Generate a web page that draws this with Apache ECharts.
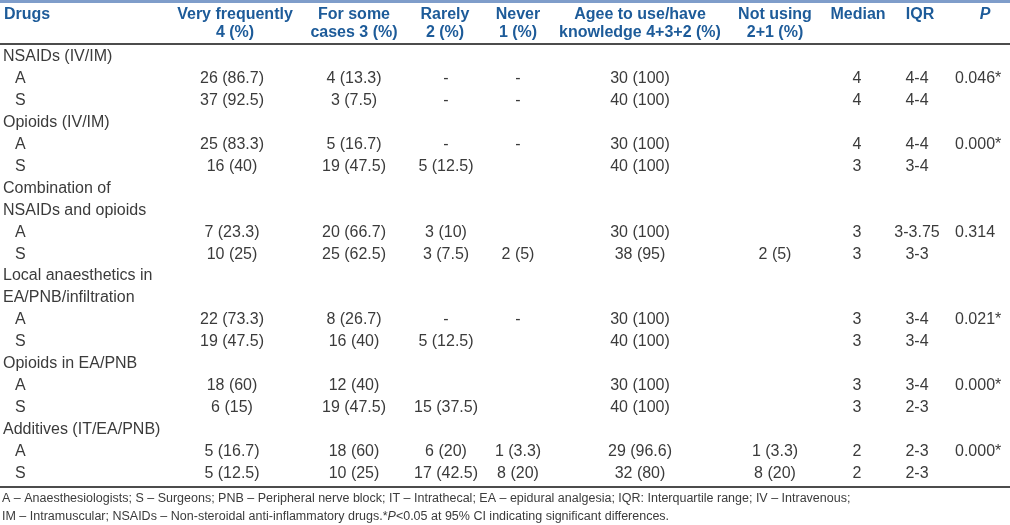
<!DOCTYPE html>
<html>
<head>
<meta charset="utf-8">
<script src="https://cdn.jsdelivr.net/npm/echarts@6/dist/echarts.min.js"></script>
<style>html,body{margin:0;padding:0;background:#fff}#c{width:1010px;height:525px}</style>
</head>
<body>
<div id="c"></div>
<script>
// ---- data ----
const headerLine1 = ['Drugs', 'Very frequently', 'For some', 'Rarely', 'Never', 'Agee to use/have', 'Not using', 'Median', 'IQR', 'P'];
const headerLine2 = ['', '4 (%)', 'cases 3 (%)', '2 (%)', '1 (%)', 'knowledge 4+3+2 (%)', '2+1 (%)', '', '', ''];
const groups = ['NSAIDs (IV/IM)', 'Opioids (IV/IM)', 'Combination of\nNSAIDs and opioids', 'Local anaesthetics in\nEA/PNB/infiltration', 'Opioids in EA/PNB', 'Additives (IT/EA/PNB)'];
const raters = ['A', 'S'];
const veryFrequently = ['26 (86.7)', '37 (92.5)', '25 (83.3)', '16 (40)', '7 (23.3)', '10 (25)', '22 (73.3)', '19 (47.5)', '18 (60)', '6 (15)', '5 (16.7)', '5 (12.5)'];
const forSomeCases = ['4 (13.3)', '3 (7.5)', '5 (16.7)', '19 (47.5)', '20 (66.7)', '25 (62.5)', '8 (26.7)', '16 (40)', '12 (40)', '19 (47.5)', '18 (60)', '10 (25)'];
const rarely = ['-', '-', '-', '5 (12.5)', '3 (10)', '3 (7.5)', '-', '5 (12.5)', '', '15 (37.5)', '6 (20)', '17 (42.5)'];
const never = ['-', '-', '-', '', '', '2 (5)', '-', '', '', '', '1 (3.3)', '8 (20)'];
const agreeToUse = ['30 (100)', '40 (100)', '30 (100)', '40 (100)', '30 (100)', '38 (95)', '30 (100)', '40 (100)', '30 (100)', '40 (100)', '29 (96.6)', '32 (80)'];
const notUsing = ['', '', '', '', '', '2 (5)', '', '', '', '', '1 (3.3)', '8 (20)'];
const median = ['4', '4', '4', '3', '3', '3', '3', '3', '3', '3', '2', '2'];
const iqr = ['4-4', '4-4', '4-4', '3-4', '3-3.75', '3-3', '3-4', '3-4', '3-4', '2-3', '2-3', '2-3'];
const pValue = ['0.046*', '', '0.000*', '', '0.314', '', '0.021*', '', '0.000*', '', '0.000*', ''];
const footnotes = [
  'A – Anaesthesiologists; S – Surgeons; PNB – Peripheral nerve block; IT – Intrathecal; EA – epidural analgesia; IQR: Interquartile range; IV – Intravenous;',
  'IM – Intramuscular; NSAIDs – Non-steroidal anti-inflammatory drugs.*{i|P}<0.05 at 95% CI indicating significant differences.'
];

// ---- layout (not data) ----
const FONT = '"Liberation Sans", Arial, sans-serif';
const TXT = '#3b3b3b';
const BLUE = '#1d5b99';
const FS = 16;
const FOOT_FS = 12.5;
const LINE = 21.9;           // px per row unit
const Y0 = 57;               // pixel of first body row
const H = 525;
const yMin = -Y0 / LINE;
const yMax = yMin + H / LINE;
const pxToRow = px => (px - Y0) / LINE;

const headerX = [4, 235, 354, 445, 518, 640, 775, 858, 920, 985];
const headerAlign = ['left', 'center', 'center', 'center', 'center', 'center', 'center', 'center', 'center', 'center'];
const dataCols = [veryFrequently, forSomeCases, rarely, never, agreeToUse, notUsing, median, iqr, pValue];
const dataX = [232, 354, 446, 518, 640, 775, 857, 917, 955];
const dataAlign = ['center', 'center', 'center', 'center', 'center', 'center', 'center', 'center', 'left'];

// ---- build cells ----
const cells = [];
headerLine1.forEach((t, i) => {
  cells.push({ x: headerX[i], row: pxToRow(15), text: t, align: headerAlign[i], kind: i === 9 ? 'headItalic' : 'head' });
  if (headerLine2[i]) cells.push({ x: headerX[i], row: pxToRow(33), text: headerLine2[i], align: headerAlign[i], kind: 'head' });
});
let r = 0;
groups.forEach((g, gi) => {
  g.split('\n').forEach(line => { cells.push({ x: 3, row: r, text: line, align: 'left', kind: 'body' }); r++; });
  raters.forEach((rt, ri) => {
    const k = gi * 2 + ri;
    cells.push({ x: 15, row: r, text: rt, align: 'left', kind: 'body' });
    dataCols.forEach((col, ci) => {
      if (col[k]) cells.push({ x: dataX[ci], row: r, text: col[k], align: dataAlign[ci], kind: 'body' });
    });
    r++;
  });
});
footnotes.forEach((t, i) => {
  cells.push({ x: 2, row: pxToRow(499 + i * 17.5), text: t, align: 'left', kind: 'foot' });
});

const rules = [
  { y: pxToRow(1.5), w: 3, c: '#7f9dca' },
  { y: pxToRow(44), w: 1.5, c: '#111' },
  { y: pxToRow(487), w: 1.5, c: '#111' }
];

const chart = echarts.init(document.getElementById('c'), null, { renderer: 'canvas' });
chart.setOption({
  animation: false,
  backgroundColor: '#fff',
  grid: { left: 0, right: 0, top: 0, bottom: 0 },
  xAxis: { type: 'value', min: 0, max: 1010, show: false },
  yAxis: { type: 'value', min: yMin, max: yMax, inverse: true, show: false },
  series: [
    {
      type: 'custom',
      coordinateSystem: 'cartesian2d',
      data: rules.map(d => [0, d.y]),
      renderItem: (params, api) => {
        const d = rules[params.dataIndex];
        const a = api.coord([0, d.y]);
        const b = api.coord([1010, d.y]);
        return { type: 'line', shape: { x1: a[0], y1: a[1], x2: b[0], y2: b[1] }, style: { stroke: d.c, lineWidth: d.w } };
      }
    },
    {
      type: 'custom',
      coordinateSystem: 'cartesian2d',
      data: cells.map(c => [c.x, c.row]),
      renderItem: (params, api) => {
        const c = cells[params.dataIndex];
        const p = api.coord([c.x, c.row]);
        let font, fill;
        if (c.kind === 'head') { font = 'bold ' + FS + 'px ' + FONT; fill = BLUE; }
        else if (c.kind === 'headItalic') { font = 'italic bold ' + FS + 'px ' + FONT; fill = BLUE; }
        else if (c.kind === 'foot') { font = FOOT_FS + 'px ' + FONT; fill = TXT; }
        else { font = FS + 'px ' + FONT; fill = TXT; }
        return {
          type: 'text', x: p[0], y: p[1],
          style: {
            text: c.text, font: font, fill: fill, align: c.align, verticalAlign: 'middle',
            rich: { i: { fontStyle: 'italic', fontSize: FOOT_FS, fontFamily: FONT, fill: TXT } }
          }
        };
      }
    }
  ]
});
</script>
</body>
</html>
